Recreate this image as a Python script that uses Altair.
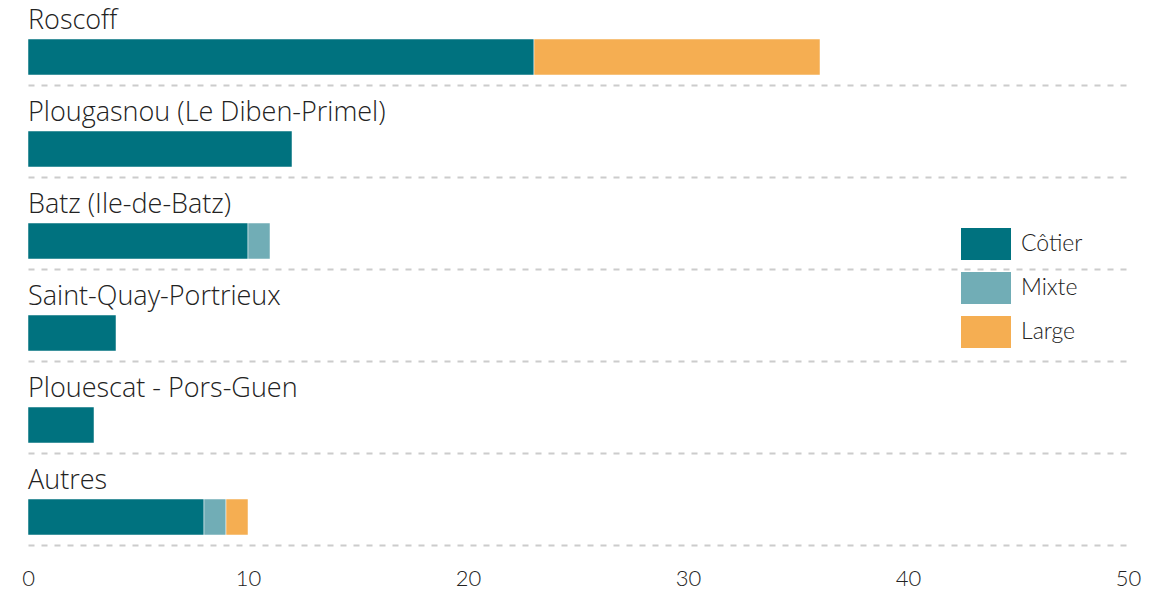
import altair as alt
import pandas as pd

categories = ["Roscoff", "Plougasnou (Le Diben-Primel)", "Batz (Ile-de-Batz)",
              "Saint-Quay-Portrieux", "Plouescat - Pors-Guen", "Autres"]
cotier = [23, 12, 10, 4, 3, 8]
mixte = [0, 0, 1, 0, 0, 1]
large = [13, 0, 0, 0, 0, 1]
types = ["Côtier", "Mixte", "Large"]
colors = ["#00727f", "#71adb6", "#f5ae52"]
x_ticks = [0, 10, 20, 30, 40, 50]

rows = []
for i, c in enumerate(categories):
    for j, (t, vals) in enumerate(zip(types, [cotier, mixte, large])):
        if vals[i] > 0:
            rows.append({"port": c, "type": t, "n": vals[i], "ord": j})
df = pd.DataFrame(rows)
labels = pd.DataFrame({"port": categories})

FONT = "Lato"

yscale = alt.Scale(domain=categories, paddingInner=0, paddingOuter=0)
xscale = alt.Scale(domain=[0, 50], nice=False)

bars = alt.Chart(df).mark_bar(height=36, yOffset=3, stroke="white", strokeWidth=0.5).encode(
    x=alt.X("n:Q", stack="zero", scale=xscale,
            axis=alt.Axis(values=x_ticks, grid=False, domain=False, ticks=False, tickSize=0,
                          labelFontSize=22, labelFont=FONT, labelFontWeight=300,
                          labelColor="#222222", labelBaseline="alphabetic",
                          labelFlush=False, labelPadding=25, title=None)),
    y=alt.Y("port:N", scale=yscale, sort=categories,
            axis=alt.Axis(labels=False, ticks=False, domain=False, grid=True,
                          gridDash=[6, 7], gridColor="#cccccc", gridWidth=2,
                          bandPosition=0.837, title=None)),
    color=alt.Color("type:N", scale=alt.Scale(domain=types, range=colors),
                    legend=alt.Legend(orient="none", legendX=933, legendY=211, title=None,
                                      symbolType="M-1,-0.64L1,-0.64L1,0.64L-1,0.64Z",
                                      symbolSize=2500, symbolStrokeWidth=0,
                                      symbolOpacity=1,
                                      labelFontSize=23, labelFont=FONT, labelFontWeight=300,
                                      labelColor="#222222",
                                      labelOffset=10, rowPadding=3, padding=0)),
    order=alt.Order("ord:Q"),
)

text = alt.Chart(labels).mark_text(align="left", baseline="alphabetic", dy=-25,
                                   fontSize=27, font="Open Sans", fontWeight=300,
                                   color="#222222").encode(
    x=alt.datum(0, scale=xscale),
    y=alt.Y("port:N", scale=yscale, sort=categories),
    text="port:N",
)

chart = alt.layer(bars, text).properties(
    width=1100, height=552,
    autosize=alt.AutoSizeParams(type="none"),
    padding={"left": 20, "top": 0, "right": 14, "bottom": 30},
).configure_view(stroke=None)

chart.save("out.html", embed_options={"renderer": "svg", "actions": False})
